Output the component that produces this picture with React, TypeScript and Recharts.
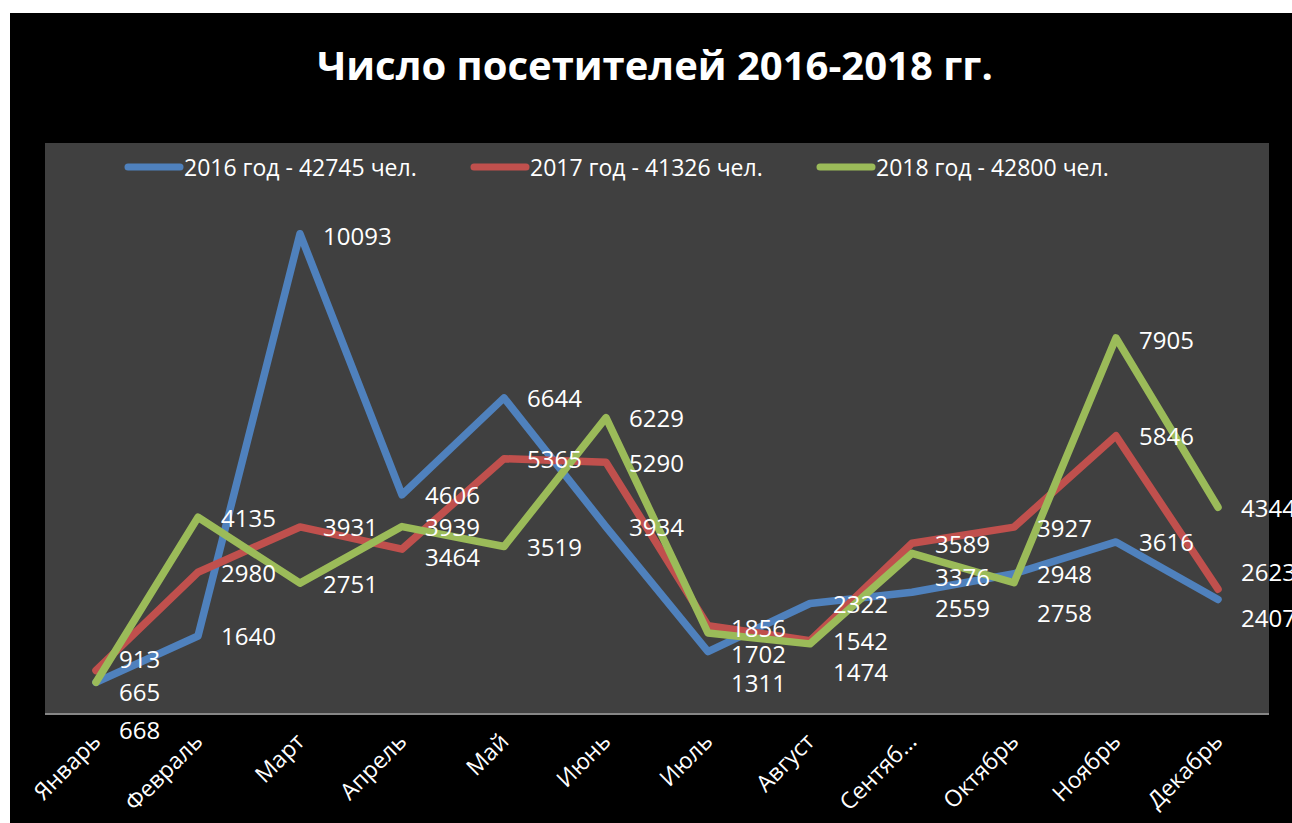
import { LineChart, Line, XAxis, YAxis, CartesianGrid, LabelList } from 'recharts'

const months = ['Январь', 'Февраль', 'Март', 'Апрель', 'Май', 'Июнь', 'Июль', 'Август', 'Сентяб...', 'Октябрь', 'Ноябрь', 'Декабрь']
const visitors2016 = [665, 1640, 10093, 4606, 6644, 3934, 1311, 2322, 2559, 2948, 3616, 2407]
const visitors2017 = [913, 2980, 3931, 3464, 5365, 5290, 1856, 1542, 3589, 3927, 5846, 2623]
const visitors2018 = [668, 4135, 2751, 3939, 3519, 6229, 1702, 1474, 3376, 2758, 7905, 4344]

// vertical nudge of each data label (px), so the labels don't sit on top of each other
const nudge2016 = [9, 0, 2, 0, 0, 0, 31, 0, 15, 0, 0, 18]
const nudge2017 = [-12, 0, 0, 7, 0, 0, 2, 0, 0, 0, 0, -18]
const nudge2018 = [47, 0, 0, 0, 0, 0, 20, 28, 23, 30, 2, 0]

const total = (arr: number[]) => arr.reduce((s, v) => s + v, 0)

const series = [
  { key: 'y2016', name: `2016 год - ${total(visitors2016)} чел.`, color: '#4F81BD', nudge: nudge2016 },
  { key: 'y2017', name: `2017 год - ${total(visitors2017)} чел.`, color: '#C0504D', nudge: nudge2017 },
  { key: 'y2018', name: `2018 год - ${total(visitors2018)} чел.`, color: '#9BBB59', nudge: nudge2018 },
]

const data = months.map((m, i) => ({
  month: m,
  y2016: visitors2016[i],
  y2017: visitors2017[i],
  y2018: visitors2018[i],
}))

const FONT = '"Open Sans", sans-serif'

function MonthTick(props: any) {
  const { x, y, payload } = props
  const ax = x + 6
  const ay = y + 21
  return (
    <text
      x={ax}
      y={ay}
      transform={`rotate(-45, ${ax}, ${ay})`}
      textAnchor="end"
      fill="#fff"
      fontSize={23}
      fontFamily={FONT}
    >
      {payload.value}
    </text>
  )
}

const makeLabel = (nudge: number[]) => (props: any) => {
  const { x, y, value, index } = props
  return (
    <text
      x={x + 23}
      y={y + nudge[index]}
      dominantBaseline="central"
      fill="#fff"
      fontSize={24}
      fontFamily={FONT}
    >
      {value}
    </text>
  )
}

function LegendRow() {
  return (
    <div
      style={{
        position: 'absolute',
        top: 138,
        left: 114,
        display: 'flex',
        fontFamily: FONT,
        fontSize: 23,
        lineHeight: '32px',
        color: '#fff',
      }}
    >
      {series.map((s) => (
        <div key={s.key} style={{ display: 'flex', alignItems: 'center', width: 346 }}>
          <svg width={60} height={12}>
            <line x1={4} y1={6} x2={56} y2={6} stroke={s.color} strokeWidth={7} strokeLinecap="round" />
          </svg>
          <span>{s.name}</span>
        </div>
      ))}
    </div>
  )
}

export default function App() {
  return (
    <div style={{ position: 'absolute', left: 10, top: 13, width: 1282, height: 810, background: '#000', overflow: 'hidden' }}>
      <div
        style={{
          position: 'absolute',
          top: 24,
          left: 0,
          width: 1290,
          textAlign: 'center',
          color: '#fff',
          fontFamily: FONT,
          fontWeight: 700,
          fontSize: 40,
        }}
      >
        Число посетителей 2016-2018 гг.
      </div>
      <LineChart width={1282} height={810} data={data} margin={{ top: 130, right: 23, left: 35, bottom: 0 }}>
        <CartesianGrid fill="#404040" stroke="none" horizontal={false} vertical={false} />
        <XAxis
          dataKey="month"
          interval={0}
          height={109}
          padding={{ left: 51, right: 51 }}
          tickLine={false}
          axisLine={{ stroke: '#868686', strokeWidth: 2 }}
          tick={<MonthTick />}
        />
        <YAxis hide domain={[0, 12000]} />
        {series.map((s) => (
          <Line
            key={s.key}
            type="linear"
            dataKey={s.key}
            name={s.name}
            stroke={s.color}
            strokeWidth={7.5}
            strokeLinecap="round"
            strokeLinejoin="round"
            dot={false}
            activeDot={false}
            isAnimationActive={false}
          />
        ))}
        {series.map((s) => (
          <Line
            key={s.key + '-labels'}
            dataKey={s.key}
            stroke="none"
            dot={false}
            activeDot={false}
            legendType="none"
            isAnimationActive={false}
          >
            <LabelList dataKey={s.key} content={makeLabel(s.nudge)} />
          </Line>
        ))}
      </LineChart>
      <LegendRow />
    </div>
  )
}
